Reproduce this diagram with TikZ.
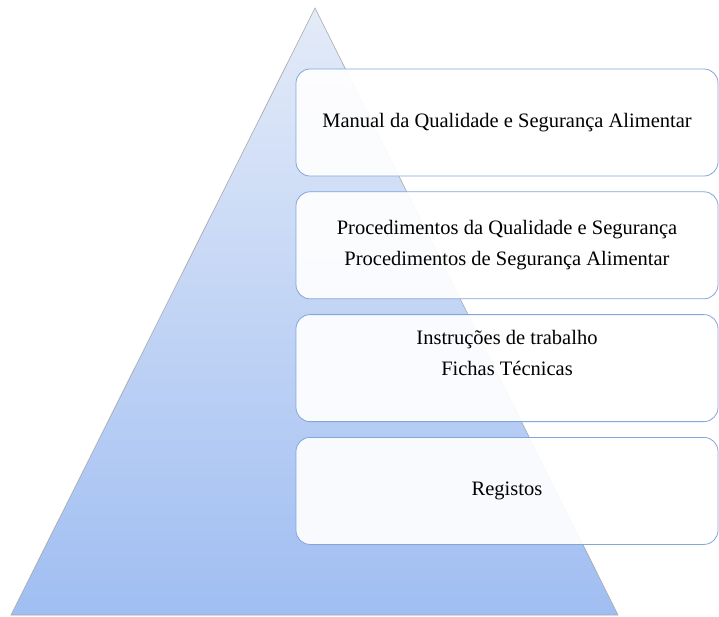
\documentclass[tikz,border=0pt]{standalone}
\usepackage{fontspec}
\setmainfont{Liberation Serif}
\usetikzlibrary{positioning}
\definecolor{pyrtop}{RGB}{228,235,248}
\definecolor{pyrbottom}{RGB}{160,190,242}
\definecolor{boxline}{RGB}{130,165,220}
\tikzset{
level/.style={rectangle, draw=boxline, line width=0.8pt, fill=white, fill opacity=0.92, text opacity=1,
  rounded corners=14pt, minimum width=422pt, minimum height=107pt, inner sep=0pt,
  align=center, font=\fontsize{20.5}{31}\selectfont}
}

\begin{document}
\begin{tikzpicture}[x=1pt, y=-1pt]
    \useasboundingbox (0,0) rectangle (719,616);
    % Pyramid
    \path [top color=pyrtop, bottom color=pyrbottom, draw=gray!70, line width=0.6pt]
        (315,8) -- (618,615) -- (11,615) -- cycle;
    % Place nodes
    \node [level] (manual) at (507,122.5) {Manual da Qualidade e Segurança Alimentar};
    \node [level, below=15pt of manual] (procedures) {Procedimentos da Qualidade e Segurança\\Procedimentos de Segurança Alimentar};
    \node [level, below=15pt of procedures] (instructions) {Instruções de trabalho\\Fichas Técnicas\\\mbox{}};
    \node [level, below=15pt of instructions] (records) {Registos};
\end{tikzpicture}
\end{document}
